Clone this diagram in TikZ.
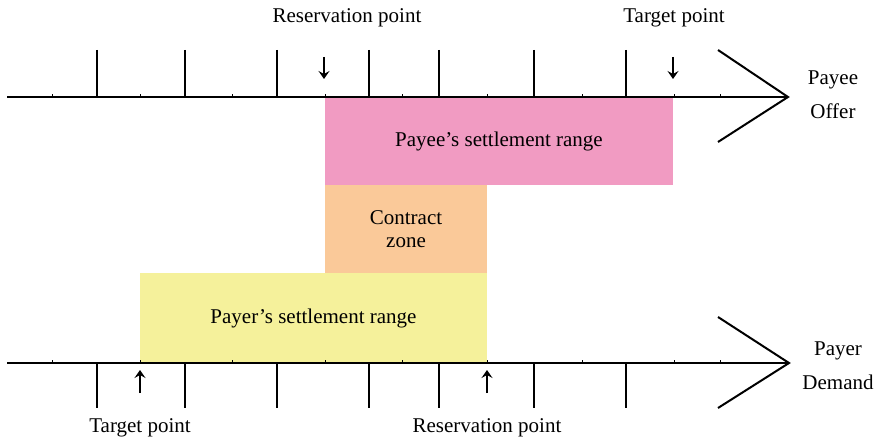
\documentclass[tikz,border=0pt]{standalone}
\usepackage{fontspec}
\setmainfont{Liberation Serif}
\usetikzlibrary{arrows.meta}
\definecolor{payeepink}{RGB}{241,155,194}
\definecolor{contractorange}{RGB}{250,201,153}
\definecolor{payeryellow}{RGB}{245,241,155}

\begin{document}
\begin{tikzpicture}[x=1pt, y=-1pt, line width=2pt,
    txt/.style = {font=\fontsize{21}{23}\selectfont, inner sep=0pt, outer sep=0pt, align=center},
    side/.style = {txt, font=\fontsize{21}{34}\selectfont},
    zonebox/.style = {txt, anchor=north west, minimum height=88pt},
    pointer/.style = {-{Stealth[length=8pt, width=11pt, inset=3pt]}, line width=2pt}]
    \useasboundingbox (0,0) rectangle (880,443);
    % settlement ranges
    \node[zonebox, fill=payeepink, minimum width=348pt] (payee) at (325,97) {Payee's settlement range};
    \node[zonebox, fill=contractorange, minimum width=162pt] (contract) at (325,185) {Contract\\zone};
    \node[zonebox, fill=payeryellow, minimum width=347pt, minimum height=90pt] (payer) at (140,273) {Payer's settlement range};
    % axes
    \coordinate (topStart) at (7,97);
    \coordinate (topEnd) at (788,97);
    \coordinate (botStart) at (7,363);
    \coordinate (botEnd) at (789,363);
    \draw (topStart) -- (topEnd);
    \draw (718,50) -- (topEnd) -- (718,142);
    \draw (botStart) -- (botEnd);
    \draw (718,317) -- (botEnd) -- (718,408);
    \foreach \x in {97,185,277,369,439,534,626} {
        \draw (\x,50) -- (\x,97);
        \draw (\x,363) -- (\x,408);
    }
    \foreach \x in {52,140,232,325,402,487,582,674,720} {
        \draw[line width=1pt] (\x,97) -- (\x,94);
        \draw[line width=1pt] (\x,363) -- (\x,360);
    }
    % points
    \node[txt] (resTop) at (347,18) {Reservation point};
    \node[txt] (tgtTop) at (674,18) {Target point};
    \node[txt] (tgtBot) at (140,428) {Target point};
    \node[txt] (resBot) at (487,428) {Reservation point};
    \coordinate (resTopA) at (324,57);
    \coordinate (resTopB) at (324,79);
    \coordinate (tgtTopA) at (673,57);
    \coordinate (tgtTopB) at (673,79);
    \coordinate (tgtBotA) at (140,393);
    \coordinate (tgtBotB) at (140,370);
    \coordinate (resBotA) at (487,393);
    \coordinate (resBotB) at (487,370);
    \draw[pointer] (resTopA) -- (resTopB);
    \draw[pointer] (tgtTopA) -- (tgtTopB);
    \draw[pointer] (tgtBotA) -- (tgtBotB);
    \draw[pointer] (resBotA) -- (resBotB);
    % sides
    \node[side] (payeeLbl) at (833,95) {Payee\\Offer};
    \node[side] (payerLbl) at (838,366) {Payer\\Demand};
\end{tikzpicture}
\end{document}
